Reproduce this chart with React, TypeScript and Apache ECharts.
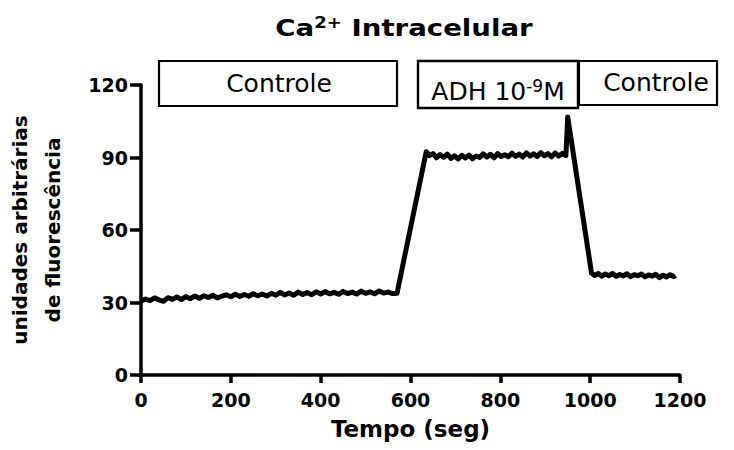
import React, { useEffect, useRef } from "react";
import * as echarts from "echarts";

const xTicks = [0, 200, 400, 600, 800, 1000, 1200];
const yTicks = [0, 30, 60, 90, 120];

const baselineT = [0,10,20,30,40,50,60,70,80,90,100,110,120,130,140,150,160,170,180,190,200,210,220,230,240,250,260,270,280,290,300,310,320,330,340,350,360,370,380,390,400,410,420,430,440,450,460,470,480,490,500,510,520,530,540,550,560,570];
const baselineV = [30.6,31.4,30.8,31.9,31.1,30.5,32.0,31.3,32.3,31.2,32.5,31.6,32.7,31.7,32.8,32.1,33.0,31.9,32.6,33.2,32.4,33.4,32.5,33.3,32.6,33.6,32.8,33.5,32.7,33.8,33.0,34.2,33.1,33.9,33.0,34.3,33.3,34.1,33.2,34.4,33.5,34.5,33.6,34.2,33.4,34.6,33.7,34.3,33.5,34.7,33.8,34.4,33.6,34.8,33.9,34.3,33.7,33.8];

const adhT = [635,642,650,658,666,674,682,690,698,706,714,722,730,738,746,754,762,770,778,786,794,802,810,818,826,834,842,850,858,866,874,882,890,898,906,914,922,930,938,946,950];
const adhV = [92.4,90.8,91.6,89.9,91.2,90.1,91.4,89.6,90.7,89.4,90.9,89.8,91.0,89.5,90.6,90.0,91.5,90.2,91.3,89.9,91.6,90.4,91.1,90.3,91.8,90.5,91.4,90.2,91.9,90.6,91.5,90.4,92.0,90.7,91.6,90.3,91.9,90.6,91.7,90.8,106.8];

const ctrl2T = [1003,1010,1018,1026,1034,1042,1050,1058,1066,1074,1082,1090,1098,1106,1114,1122,1130,1138,1146,1154,1162,1170,1178,1186,1190];
const ctrl2V = [42.2,41.2,42.0,40.9,41.8,41.1,42.0,40.8,41.6,41.0,41.9,40.7,41.5,41.1,41.8,40.6,41.4,40.9,41.7,40.3,41.3,40.6,41.5,40.7,41.2];

const boxLabels = ["Controle", "ADH 10{sup|-9}M", "Controle"];

export default function App() {
  const ref = useRef<HTMLDivElement>(null);
  useEffect(() => {
    if (!ref.current) return;
    const chart = echarts.init(ref.current, null, { renderer: "svg" });
    const data: [number, number][] = [];
    baselineT.forEach((t, i) => data.push([t, baselineV[i]]));
    adhT.forEach((t, i) => data.push([t, adhV[i]]));
    ctrl2T.forEach((t, i) => data.push([t, ctrl2V[i]]));

    const font = "'DejaVu Sans', sans-serif";
    chart.setOption({
      animation: false,
      backgroundColor: "#ffffff",
      grid: { left: 141, right: 54, top: 85, bottom: 75, containLabel: false, outerBoundsMode: "none" },
      xAxis: {
        type: "value",
        min: 0,
        max: 1200,
        interval: 200,
        name: "Tempo (seg)",
        nameLocation: "middle",
        nameGap: 42,
        nameTextStyle: { fontFamily: font, fontWeight: "bold", fontSize: 23, color: "#000" },
        axisLine: { lineStyle: { color: "#000", width: 3.5 } },
        axisTick: { lineStyle: { color: "#000", width: 3.5 }, length: 8 },
        axisLabel: { fontFamily: font, fontWeight: "bold", fontSize: 19, color: "#000", margin: 15, formatter: (v: number) => (xTicks.includes(v) ? String(v) : "") },
        splitLine: { show: false },
      },
      yAxis: {
        type: "value",
        min: 0,
        max: 120,
        interval: 30,
        name: "unidades arbitrárias\nde fluorescência",
        nameLocation: "middle",
        nameRotate: 90,
        nameGap: 72,
        nameTextStyle: { fontFamily: font, fontWeight: "bold", fontSize: 20, color: "#000", lineHeight: 33 },
        axisLine: { lineStyle: { color: "#000", width: 3.5 } },
        axisTick: { lineStyle: { color: "#000", width: 3.5 }, length: 11 },
        axisLabel: { fontFamily: font, fontWeight: "bold", fontSize: 19, color: "#000", margin: 13, formatter: (v: number) => (yTicks.includes(v) ? String(v) : "") },
        splitLine: { show: false },
      },
      graphic: [
        {
          type: "text", x: 404, y: 28, scaleX: 1.2,
          style: {
            text: "Ca{sup|2+} Intracelular", fontFamily: font, fontWeight: "bold", fontSize: 23, fill: "#000", align: "center", verticalAlign: "middle",
            rich: { sup: { fontFamily: font, fontWeight: "bold", fontSize: 15, fill: "#000", verticalAlign: "top", padding: [0, 0, 9, 0] } },
          },
        },
        { type: "rect", shape: { x: 159, y: 61, width: 238, height: 45 }, style: { fill: "#fff", stroke: "#000", lineWidth: 2.2 } },
        { type: "rect", shape: { x: 418, y: 61, width: 160, height: 47 }, style: { fill: "#fff", stroke: "#000", lineWidth: 2.4 } },
        { type: "rect", shape: { x: 579, y: 61, width: 138, height: 44 }, style: { fill: "#fff", stroke: "#000", lineWidth: 2.2 } },
        { type: "text", x: 279, y: 83, style: { text: boxLabels[0], fontFamily: font, fontSize: 25, fill: "#000", align: "center", verticalAlign: "middle" } },
        {
          type: "text", x: 498, y: 91,
          style: {
            text: boxLabels[1], fontFamily: font, fontSize: 25, fill: "#000", align: "center", verticalAlign: "middle",
            rich: { sup: { fontFamily: font, fontSize: 17, fill: "#000", verticalAlign: "top", padding: [0, 0, 10, 0] } },
          },
        },
        { type: "text", x: 656, y: 82, style: { text: boxLabels[2], fontFamily: font, fontSize: 25, fill: "#000", align: "center", verticalAlign: "middle" } },
      ],
      series: [
        {
          type: "line",
          data,
          showSymbol: false,
          lineStyle: { color: "#000", width: 5, join: "round" },
          z: 3,
        },
      ],
    });
    return () => chart.dispose();
  }, []);
  return <div ref={ref} style={{ width: 734, height: 450, position: "absolute", left: 0, top: 0 }} />;
}
